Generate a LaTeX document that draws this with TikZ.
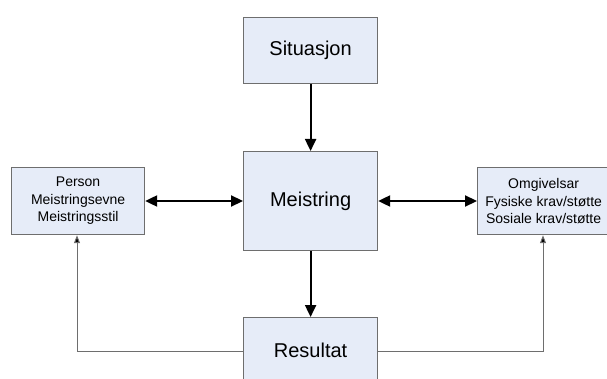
\documentclass[tikz,border=0pt]{standalone}
\usepackage{fontspec}
\setmainfont{Liberation Sans}
\usetikzlibrary{arrows.meta}
\definecolor{boxfill}{RGB}{230,236,248}
\definecolor{boxline}{RGB}{110,110,110}
\begin{document}
\begin{tikzpicture}[x=1pt,y=-1pt,
  box/.style={draw=boxline,fill=boxfill,line width=1.2pt,inner sep=0pt,anchor=north west,align=center},
  big/.style={font=\fontsize{20}{24}\selectfont},
  small/.style={font=\fontsize{14}{17.5}\selectfont},
  flow/.style={line width=2.2pt,-{Triangle[length=12pt,width=11pt]}},
  both/.style={line width=2.2pt,{Triangle[length=12pt,width=11pt]}-{Triangle[length=12pt,width=11pt]}},
  back/.style={draw=boxline,line width=1pt,-{Triangle[length=8pt,width=6pt,fill=black]}}]
\useasboundingbox (0,0) rectangle (607,379);
\clip (0,0) rectangle (607,379);
% central column
\node[box,big,minimum width=134pt,minimum height=66pt] (sit) at (243,17) {Situasjon};
\node[box,big,minimum width=134pt,minimum height=99pt] (mei) at (243,151) {Meistring};
\node[box,big,minimum width=134pt,minimum height=66pt] (res) at (243,317) {Resultat};
% side boxes
\node[box,small,minimum width=133pt,minimum height=67pt] (per) at (11,167) {Person\\Meistringsevne\\Meistringsstil};
\node[box,small,minimum width=132pt,minimum height=67pt] (omg) at (477,167) {Omgivelsar\\Fysiske krav/støtte\\Sosiale krav/støtte};
% feedback start points on the sides of the result box
\coordinate (rl) at (243,351);
\coordinate (rr) at (377,351);
% connectors
\draw[flow] (sit.south) -- (mei.north);
\draw[flow] (mei.south) -- (res.north);
\draw[both] (per.east |- 0,201) -- (mei.west |- 0,201);
\draw[both] (mei.east |- 0,201) -- (omg.west |- 0,201);
\draw[back] (rl) -| (per.south -| 77,0);
\draw[back] (rr) -| (omg.south -| 543,0);
\end{tikzpicture}
\end{document}
